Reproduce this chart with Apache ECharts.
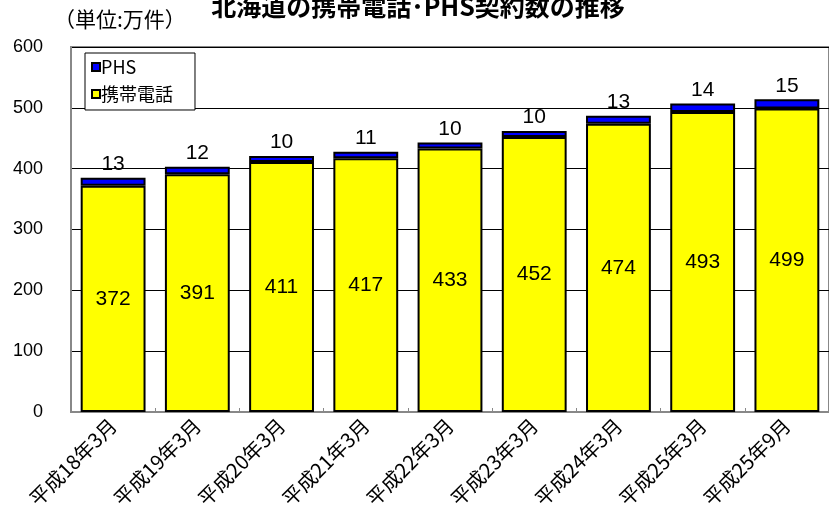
<!DOCTYPE html>
<html><head><meta charset="utf-8">
<script src="https://cdn.jsdelivr.net/npm/echarts@6/dist/echarts.min.js"></script>
<style>html,body{margin:0;padding:0;background:#fff}#c{width:829px;height:520px}</style>
</head><body><div id="c"></div>
<script>
const categories = ['平成18年3月','平成19年3月','平成20年3月','平成21年3月','平成22年3月','平成23年3月','平成24年3月','平成25年3月','平成25年9月'];
const mobile = [372,391,411,417,433,452,474,493,499];
const phs = [13,12,10,11,10,10,13,14,15];
const yTicks = {min:0,max:600,interval:100};
const FONT = '"Noto Sans CJK JP","Noto Sans",sans-serif';
const chart = echarts.init(document.getElementById('c'));
chart.setOption({
  animation:false,
  textStyle:{fontFamily:FONT,color:'#000'},
  title:{text:'北海道の携帯電話･PHS契約数の推移',left:413,textAlign:'center',top:-11,
    textStyle:{fontFamily:FONT,fontSize:25,fontWeight:'bold',color:'#000'}},
  graphic:[{type:'text',left:54,top:9,style:{text:'（単位:万件）',fontSize:21,fontFamily:'Noto Sans CJK JP',fill:'#000'}}],
  legend:{data:['PHS','携帯電話'],orient:'vertical',left:85,top:53,
    backgroundColor:'#fff',borderColor:'#000',borderWidth:1,padding:[5,22,7,6],itemGap:9,
    icon:'rect',itemWidth:8,itemHeight:8,
    textStyle:{fontFamily:FONT,fontSize:18,color:'#000',padding:[0,0,0,-4]}},
  grid:{left:71,right:-7,top:47,bottom:108,show:true,borderColor:'#888',borderWidth:2,backgroundColor:'transparent'},
  xAxis:{type:'category',data:categories,
    axisLine:{lineStyle:{color:'#888',width:2}},
    axisTick:{show:true,inside:true,length:4,lineStyle:{color:'#888'}},
    axisLabel:{rotate:45,fontSize:20,color:'#000',fontFamily:FONT,margin:10,interval:0}},
  yAxis:{type:'value',min:yTicks.min,max:yTicks.max,interval:yTicks.interval,
    axisLine:{show:true,lineStyle:{color:'#888',width:2}},
    axisTick:{show:false},
    splitLine:{lineStyle:{color:'#000',width:1}},
    axisLabel:{fontSize:18,color:'#000',fontFamily:'"Liberation Sans",Arial,sans-serif',margin:28}},
  series:[
    {name:'携帯電話',type:'bar',stack:'a',data:mobile,barCategoryGap:'23%',
      itemStyle:{color:'#ffff00',borderColor:'#000',borderWidth:2},
      label:{show:true,position:'inside',fontSize:21,color:'#000',fontFamily:'"Liberation Sans Narrow","Liberation Sans",sans-serif'}},
    {name:'PHS',type:'bar',stack:'a',data:phs,
      itemStyle:{color:'#0000ff',borderColor:'#000',borderWidth:2},
      label:{show:true,position:'top',fontSize:21,color:'#000',fontFamily:'"Liberation Sans Narrow","Liberation Sans",sans-serif',distance:3}}
  ]
});
</script></body></html>
